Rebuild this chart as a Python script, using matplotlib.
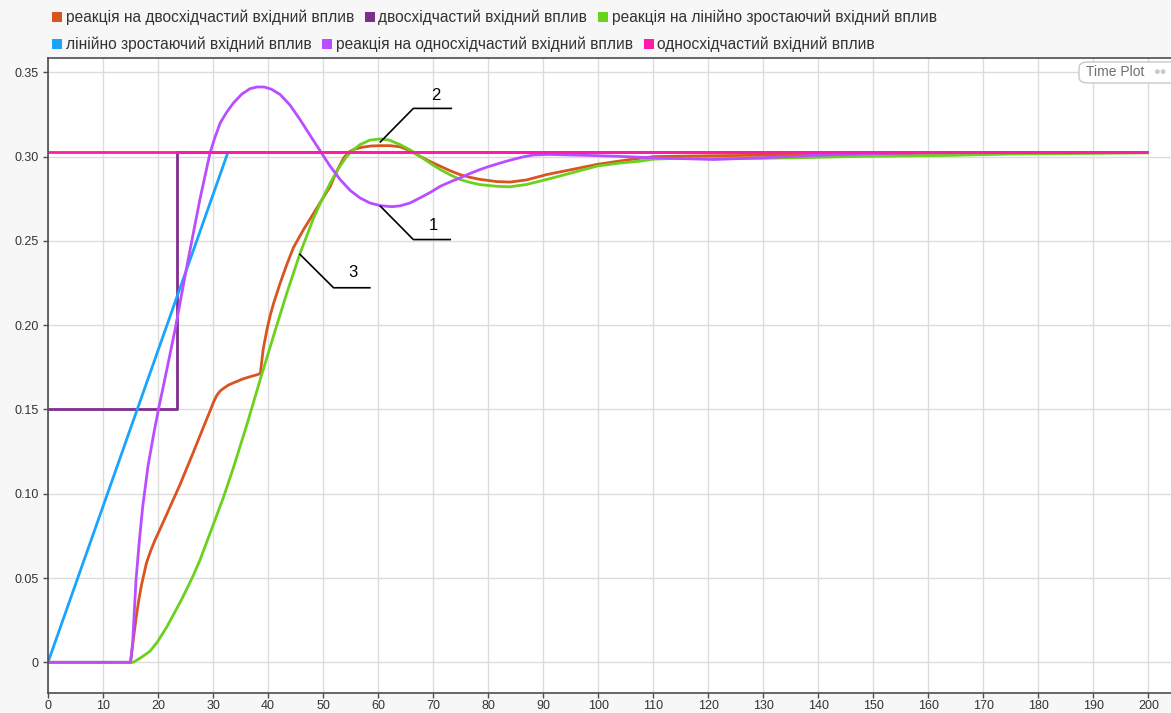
import matplotlib
matplotlib.use("Agg")
import matplotlib.pyplot as plt
from matplotlib.patches import Rectangle, FancyBboxPatch

plt.rcParams['font.family'] = ['Liberation Sans', 'DejaVu Sans']

# ---------------- data ----------------
labels = [
    "реакція на двосхідчастий вхідний вплив",
    "двосхідчастий вхідний вплив",
    "реакція на лінійно зростаючий вхідний вплив",
    "лінійно зростаючий вхідний вплив",
    "реакція на односхідчастий вхідний вплив",
    "односхідчастий вхідний вплив",
]
colors = ["#d9541e", "#7e2f8e", "#6ad11c", "#1aa3ff", "#b94dff", "#ff1aa8"]

t_orange = [0, 15, 15.3, 15.6, 16.0, 16.5, 17.0, 17.9, 18.7, 19.45, 20.5, 21.6, 24.0, 26.4, 28.0, 29.5,
            30.1, 30.7, 31.3, 31.9, 32.8, 33.7, 35.5, 37.0, 38.2, 38.6, 39.1, 39.8, 40.4, 41.0, 42.2,
            43.4, 44.6, 46.4, 48.2, 49.8, 51.3, 52.5, 53.7, 54.6, 55.5, 57.0, 58.7, 60.4, 62.2, 64.0,
            65.8, 67.6, 69.5, 71.3, 73.1, 74.9, 76.7, 78.5, 81.5, 84.0, 87.0, 90.7, 95.0, 99.8, 105.2,
            110, 120, 130, 145, 160, 180, 200]
y_orange = [0, 0, 0.008, 0.016, 0.026, 0.037, 0.046, 0.059, 0.0665, 0.0725, 0.0800, 0.0880, 0.1055,
            0.1245, 0.1375, 0.1495, 0.1545, 0.1585, 0.1610, 0.1625, 0.1645, 0.1658, 0.1682, 0.1697,
            0.1708, 0.1715, 0.1856, 0.1975, 0.206, 0.213, 0.225, 0.236, 0.2460, 0.2565, 0.2660,
            0.2745, 0.2824, 0.2915, 0.2990, 0.3025, 0.3042, 0.3055, 0.3063, 0.3065, 0.3065, 0.3058,
            0.3035, 0.3002, 0.2970, 0.2943, 0.2916, 0.2893, 0.2877, 0.2865, 0.2852, 0.2849, 0.2862,
            0.2894, 0.2922, 0.2954, 0.2980, 0.3000, 0.3005, 0.3008, 0.3012, 0.3020, 0.3023, 0.3025]

t_purple = [0, 23.4, 23.4, 200]
y_purple = [0.15, 0.15, 0.3025, 0.3025]

t_green = [0, 15, 15.5, 17.0, 18.5, 19.8, 21.6, 23.0, 24.3, 25.2, 26.4, 27.6, 29.5, 31.9, 33.7, 36.1,
           38.5, 41.3, 43.4, 45.8, 48.2, 49.8, 51.3, 52.8, 54.3, 55.5, 56.7, 58.5, 60.4, 62.0, 64.0,
           65.8, 67.6, 69.5, 71.3, 73.1, 74.9, 76.7, 78.5, 81.5, 84.0, 87.0, 90.7, 95.0, 99.8, 104.0,
           107.6, 110, 115, 121, 130, 139, 145, 155, 163.4, 175, 200]
y_green = [0, 0, 0, 0.003, 0.0065, 0.0117, 0.0210, 0.0295, 0.0374, 0.0433, 0.0515, 0.0605, 0.0770,
           0.0980, 0.1155, 0.1405, 0.1670, 0.1970, 0.2190, 0.2425, 0.2630, 0.2745, 0.2844, 0.2930,
           0.3002, 0.3040, 0.3071, 0.3098, 0.3105, 0.3098, 0.3071, 0.3040, 0.3002, 0.2960, 0.2923,
           0.2892, 0.2864, 0.2847, 0.2834, 0.2824, 0.2821, 0.2835, 0.2865, 0.2902, 0.2944, 0.2962,
           0.2973, 0.2985, 0.2990, 0.2990, 0.2990, 0.2995, 0.3000, 0.3004, 0.3007, 0.3015, 0.3022]

t_blue = [0, 32.7, 200]
y_blue = [0, 0.3025, 0.3025]

t_violet = [0, 15, 15.4, 15.8, 16.0, 16.6, 17.2, 18.2, 19.3, 20.2, 21.6, 23.1, 25.3, 27.6, 29.45,
            30.3, 31.3, 32.5, 33.7, 35.2, 36.7, 38.0, 39.3, 40.6, 42.2, 44.0, 45.8, 47.6, 49.5, 51.3,
            53.1, 54.9, 56.7, 58.5, 60.4, 62.5, 64.0, 65.8, 67.6, 69.5, 71.3, 73.1, 74.9, 76.7, 78.5,
            80.0, 81.5, 83.0, 84.5, 86.3, 88.2, 91.0, 95.0, 102.7, 110, 121, 130, 139, 150, 160, 200]
y_violet = [0, 0, 0.012, 0.037, 0.049, 0.072, 0.092, 0.117, 0.137, 0.152, 0.1737, 0.1975, 0.236,
            0.2745, 0.3022, 0.3110, 0.3200, 0.3265, 0.3318, 0.3370, 0.3403, 0.3413, 0.3413, 0.3400,
            0.3368, 0.3305, 0.3220, 0.3128, 0.3032, 0.2942, 0.2864, 0.2800, 0.2755, 0.2725, 0.2709,
            0.2703, 0.2708, 0.2725, 0.2755, 0.2788, 0.2824, 0.2850, 0.2874, 0.2900, 0.2923, 0.2940,
            0.2955, 0.2970, 0.2983, 0.2998, 0.3010, 0.3013, 0.3010, 0.3003, 0.2993, 0.2983, 0.2993,
            0.3007, 0.3018, 0.3023, 0.3025]

t_magenta = [0, 200]
y_magenta = [0.3025, 0.3025]

series = [(t_orange, y_orange), (t_purple, y_purple), (t_green, y_green),
          (t_blue, y_blue), (t_violet, y_violet), (t_magenta, y_magenta)]

x_ticks = list(range(0, 201, 10))
y_ticks = [0, 0.05, 0.10, 0.15, 0.20, 0.25, 0.30, 0.35]
y_ticklabels = ["0", "0.05", "0.10", "0.15", "0.20", "0.25", "0.30", "0.35"]

# annotation callouts: (label, leader-line points, label position)
callouts = [
    ("1", [(60.4, 0.2706), (66.4, 0.2508), (73.1, 0.2508)], (70.0, 0.2589)),
    ("2", [(60.4, 0.3087), (66.4, 0.3286), (73.3, 0.3286)], (70.5, 0.3365)),
    ("3", [(45.8, 0.2420), (51.9, 0.2222), (58.5, 0.2222)], (55.5, 0.2312)),
]

# ---------------- figure ----------------
W, H = 1171, 713
fig = plt.figure(figsize=(W / 100, H / 100), dpi=100, facecolor="#f7f7f7")
ax = fig.add_axes([48 / W, 1 - 693 / H, (W - 48) / W, (693 - 58) / H])
ax.set_facecolor("white")

for (t, y), c in zip(series, colors):
    ax.plot(t, y, color=c, lw=2.0, solid_joinstyle="round", solid_capstyle="butt")

ax.set_xlim(0, 204.1)
ax.set_ylim(-0.0182, 0.3585)
ax.set_xticks(x_ticks)
ax.set_yticks(y_ticks)
ax.set_yticklabels(y_ticklabels)
ax.grid(True, color="#dcdcdc", lw=1.0)
ax.set_axisbelow(True)
for s in ["left", "bottom", "top"]:
    ax.spines[s].set_color("#4d4d4d")
    ax.spines[s].set_linewidth(1.2)
ax.spines["right"].set_visible(False)
ax.tick_params(direction="out", length=3.5, width=1, color="#4d4d4d",
               labelsize=9, labelcolor="#333333")
ax.tick_params(axis="x", pad=1.5)
ax.tick_params(axis="y", pad=3)

for lab, pts, (lx, ly) in callouts:
    xs = [p[0] for p in pts]
    ys = [p[1] for p in pts]
    ax.plot(xs, ys, color="black", lw=1.2, zorder=5)
    ax.text(lx, ly, lab, fontsize=12, color="black", ha="center", va="center", zorder=5)

# ---------------- flowing legend ----------------
renderer = fig.canvas.get_renderer()
rows = [[0, 1, 2], [3, 4, 5]]
row_y = [17, 44]
for row, yc in zip(rows, row_y):
    x = 52
    for i in row:
        fig.patches.append(Rectangle((x / W, 1 - (yc + 5) / H), 10 / W, 10 / H,
                                     transform=fig.transFigure, facecolor=colors[i],
                                     edgecolor="none"))
        txt = fig.text((x + 13.5) / W, 1 - yc / H, labels[i], fontsize=11.2,
                       color="#333333", ha="left", va="center")
        bb = txt.get_window_extent(renderer)
        x = bb.x1 + 11

# ---------------- "Time Plot" badge ----------------
fig.patches.append(FancyBboxPatch((1079 / W, 1 - 83 / H), 110 / W, 21 / H,
                                  boxstyle="round,pad=0,rounding_size=0.008",
                                  transform=fig.transFigure, facecolor="white",
                                  edgecolor="#c8c8c8", lw=1))
fig.text(1086 / W, 1 - 72.5 / H, "Time Plot", fontsize=10, color="#707070",
         ha="left", va="center")
fig.text(1153 / W, 1 - 72.5 / H, "●●", fontsize=8, color="#c8c8c8",
         ha="left", va="center")

fig.savefig("out.png", dpi=100, facecolor=fig.get_facecolor())
